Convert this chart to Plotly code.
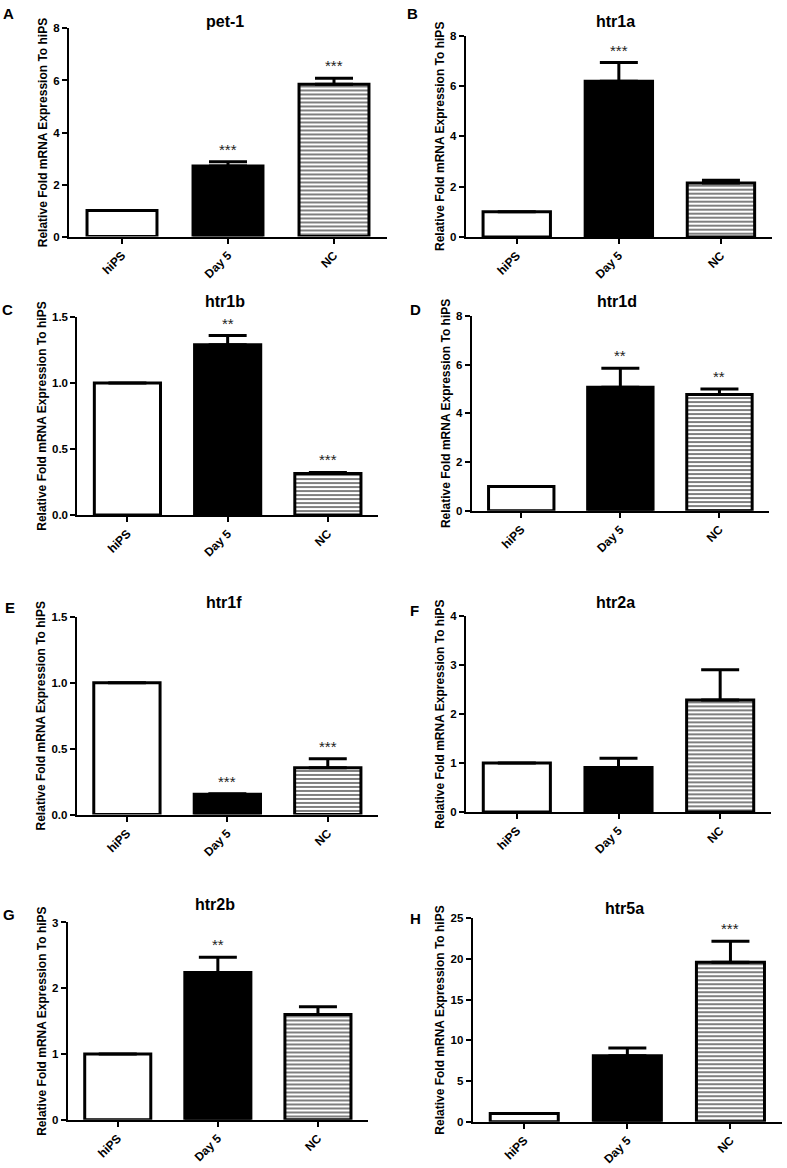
import plotly.graph_objects as go

# ---------------- data ----------------
categories = ["hiPS", "Day 5", "NC"]
genes = ["pet-1", "htr1a", "htr1b", "htr1d", "htr1f", "htr2a", "htr2b", "htr5a"]
panel_letters = ["A", "B", "C", "D", "E", "F", "G", "H"]

pet1_mean = [1.0, 2.71, 5.86]
pet1_sem = [0.0, 0.17, 0.23]
pet1_sig = ["", "***", "***"]

htr1a_mean = [1.0, 6.19, 2.14]
htr1a_sem = [0.0, 0.74, 0.11]
htr1a_sig = ["", "***", ""]

htr1b_mean = [1.0, 1.29, 0.315]
htr1b_sem = [0.0, 0.07, 0.008]
htr1b_sig = ["", "**", "***"]

htr1d_mean = [1.0, 5.08, 4.78]
htr1d_sem = [0.0, 0.78, 0.22]
htr1d_sig = ["", "**", "**"]

htr1f_mean = [1.0, 0.155, 0.355]
htr1f_sem = [0.0, 0.004, 0.068]
htr1f_sig = ["", "***", "***"]

htr2a_mean = [1.0, 0.91, 2.29]
htr2a_sem = [0.0, 0.19, 0.62]
htr2a_sig = ["", "", ""]

htr2b_mean = [1.0, 2.24, 1.60]
htr2b_sem = [0.0, 0.23, 0.12]
htr2b_sig = ["", "**", ""]

htr5a_mean = [1.0, 8.1, 19.6]
htr5a_sem = [0.0, 0.97, 2.57]
htr5a_sig = ["", "", "***"]

y_max = [8, 8, 1.5, 8, 1.5, 4, 3, 25]
y_dtick = [2, 2, 0.5, 2, 0.5, 1, 1, 5]

means = [pet1_mean, htr1a_mean, htr1b_mean, htr1d_mean, htr1f_mean, htr2a_mean, htr2b_mean, htr5a_mean]
sems = [pet1_sem, htr1a_sem, htr1b_sem, htr1d_sem, htr1f_sem, htr2a_sem, htr2b_sem, htr5a_sem]
sigs = [pet1_sig, htr1a_sig, htr1b_sig, htr1d_sig, htr1f_sig, htr2a_sig, htr2b_sig, htr5a_sig]

y_title = "Relative Fold mRNA Expression To hiPS"

# ---------------- layout geometry (pixels) ----------------
W, H = 787, 1168
# plot boxes: (left, right, top, bottom)
boxes = [
    (69, 387, 22.7, 233),
    (465.7, 772, 30, 233.3),
    (77.3, 378, 314.3, 514.3),
    (471.7, 769, 313.3, 510),
    (76.7, 378, 617.3, 817),
    (466, 771, 616.7, 814.3),
    (67.7, 368, 926, 1125.3),
    (472.7, 782, 921.7, 1127.3),
]
title_y = [16, 16, 299, 299, 603, 603, 908, 911.7]
letter_pos = [(8, 8), (412, 8), (7.5, 307), (415, 306.7), (9.5, 608), (414, 611), (9, 918), (415, 922)]

FONT = "Liberation Sans, Arial, sans-serif"


def px_x(v):
    return v / W


def px_y(v):
    return 1 - v / H


fill_colors = ["white", "black"]

fig = go.Figure()
annotations = []
layout_axes = {}

for i in range(8):
    n = "" if i == 0 else str(i + 1)
    l, r, t, b = boxes[i]
    err_plus = [s if s > 0 else None for s in sems[i]]
    # hiPS + Day 5: solid fills
    fig.add_trace(go.Bar(
        x=categories[:2],
        y=means[i][:2],
        width=0.66,
        xaxis="x" + n,
        yaxis="y" + n,
        marker=dict(color=fill_colors, line=dict(color="black", width=3)),
        error_y=dict(type="data", symmetric=False, array=err_plus[:2],
                     arrayminus=[0, 0], color="black", thickness=3, width=19),
        showlegend=False,
        hoverinfo="skip",
    ))
    # NC: horizontal stripes
    fig.add_trace(go.Bar(
        x=categories[2:],
        y=means[i][2:],
        width=0.66,
        xaxis="x" + n,
        yaxis="y" + n,
        marker=dict(
            color="white",
            line=dict(color="black", width=3),
            pattern=dict(shape="-", fgcolor="black", bgcolor="white",
                         size=4, solidity=0.5, fillmode="overlay"),
        ),
        error_y=dict(type="data", symmetric=False, array=err_plus[2:],
                     arrayminus=[0], color="black", thickness=3, width=19),
        showlegend=False,
        hoverinfo="skip",
    ))
    tickfmt = ".1f" if y_dtick[i] < 1 else "d"
    layout_axes["xaxis" + n] = dict(
        domain=[px_x(l), px_x(r)], anchor="y" + n, type="category",
        categoryorder="array", categoryarray=categories,
        range=[-0.5, 2.5], showline=True, linecolor="black", linewidth=2,
        ticks="outside", ticklen=5, tickwidth=2, tickcolor="black",
        tickangle=-45, showgrid=False, zeroline=False,
        tickfont=dict(family=FONT, size=12, color="black", weight="bold"),
    )
    layout_axes["yaxis" + n] = dict(
        domain=[px_y(b), px_y(t)], anchor="x" + n,
        range=[0, y_max[i]], dtick=y_dtick[i], tick0=0, tickformat=tickfmt,
        showline=True, linecolor="black", linewidth=2,
        ticks="outside", ticklen=5, tickwidth=2, tickcolor="black",
        showgrid=False, zeroline=False,
        tickfont=dict(family=FONT, size=11.5, color="black", weight="bold"),
        title=dict(text=y_title, standoff=3,
                   font=dict(family=FONT, size=12, color="black", weight="bold")),
    )
    # panel title
    annotations.append(dict(
        x=px_x((l + r) / 2 - 3), y=px_y(title_y[i]), xref="paper", yref="paper",
        text=genes[i], showarrow=False, xanchor="center", yanchor="middle",
        font=dict(family=FONT, size=16, color="black", weight="bold"),
    ))
    # panel letter
    lx, ly = letter_pos[i]
    annotations.append(dict(
        x=px_x(lx), y=px_y(ly), xref="paper", yref="paper",
        text=panel_letters[i], showarrow=False, xanchor="center", yanchor="middle",
        font=dict(family=FONT, size=15, color="black", weight="bold"),
    ))
    # significance stars
    for j, s in enumerate(sigs[i]):
        if s:
            annotations.append(dict(
                x=categories[j], y=means[i][j] + sems[i][j],
                xref="x" + n, yref="y" + n, text=s, showarrow=False,
                xanchor="center", yanchor="bottom", yshift=2,
                font=dict(family=FONT, size=15, color="#222222"),
            ))

fig.update_layout(
    width=W, height=H,
    margin=dict(l=0, r=0, t=0, b=0),
    paper_bgcolor="white", plot_bgcolor="white",
    showlegend=False, barmode="overlay",
    annotations=annotations,
    **layout_axes,
)

fig.write_html(
    "out.html",
    config={"displayModeBar": False},
    post_script="document.body.style.margin='0';document.body.style.overflow='hidden';",
)
